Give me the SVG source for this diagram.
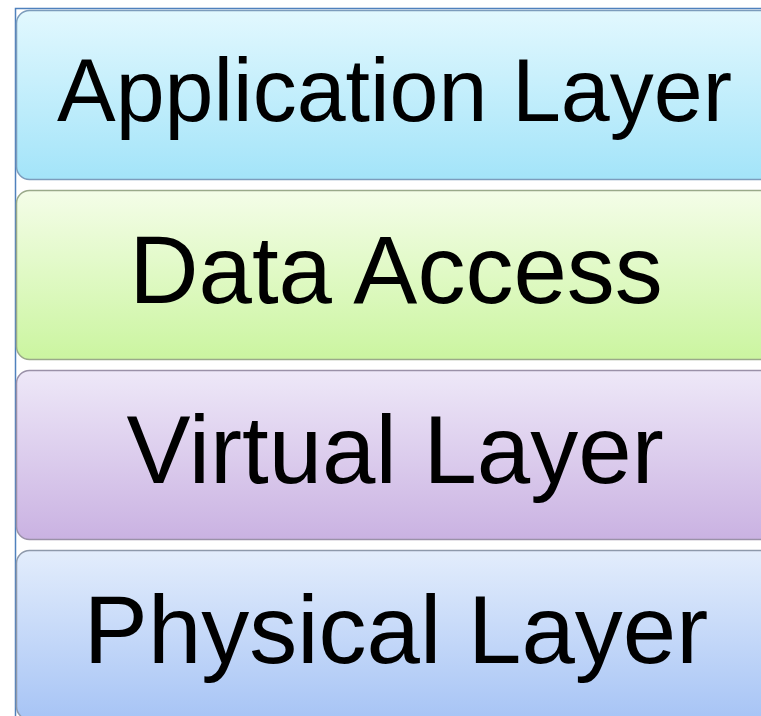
<svg xmlns="http://www.w3.org/2000/svg" width="761" height="716" viewBox="0 0 761 716">
  <defs>
    <linearGradient id="g1" x1="0" y1="0" x2="0" y2="1">
      <stop offset="0" stop-color="#e2f8fe"/>
      <stop offset="1" stop-color="#a3e4f9"/>
    </linearGradient>
    <linearGradient id="g2" x1="0" y1="0" x2="0" y2="1">
      <stop offset="0" stop-color="#f4fde8"/>
      <stop offset="1" stop-color="#cbf5a0"/>
    </linearGradient>
    <linearGradient id="g3" x1="0" y1="0" x2="0" y2="1">
      <stop offset="0" stop-color="#eee8f8"/>
      <stop offset="1" stop-color="#cab2e2"/>
    </linearGradient>
    <linearGradient id="g4" x1="0" y1="0" x2="0" y2="1">
      <stop offset="0" stop-color="#e3edfc"/>
      <stop offset="1" stop-color="#a7c4f5"/>
    </linearGradient>
  </defs>
  <style>
    .box { stroke-width: 1.5; }
    .lbl { font-family: "Liberation Sans", Arial, sans-serif; fill: #000; }
    .frame { stroke: #4f81bd; stroke-width: 1.5; fill: none; }
  </style>
  <rect width="761" height="716" fill="#ffffff"/>
  <g id="frame">
    <path class="frame" d="M15.5 716 V8.5 H761"/>
  </g>
  <g id="application-layer">
    <rect class="box" x="16.5" y="10.5" width="770" height="169" rx="13" fill="url(#g1)" stroke="#7c9cbc"/>
    <text class="lbl" x="57" y="121" font-size="89" textLength="675" lengthAdjust="spacingAndGlyphs">Application Layer</text>
  </g>
  <g id="data-access">
    <rect class="box" x="16.5" y="190.5" width="770" height="169" rx="13" fill="url(#g2)" stroke="#9aa98a"/>
    <text class="lbl" x="396" y="303" font-size="96" text-anchor="middle">Data Access</text>
  </g>
  <g id="virtual-layer">
    <rect class="box" x="16.5" y="370.5" width="770" height="169" rx="13" fill="url(#g3)" stroke="#9a91a8"/>
    <text class="lbl" x="395" y="483" font-size="96" text-anchor="middle">Virtual Layer</text>
  </g>
  <g id="physical-layer">
    <rect class="box" x="16.5" y="550.5" width="770" height="169" rx="13" fill="url(#g4)" stroke="#8e99ab"/>
    <text class="lbl" x="396" y="663" font-size="96" text-anchor="middle">Physical Layer</text>
  </g>
  <g id="connectors"/>
</svg>
